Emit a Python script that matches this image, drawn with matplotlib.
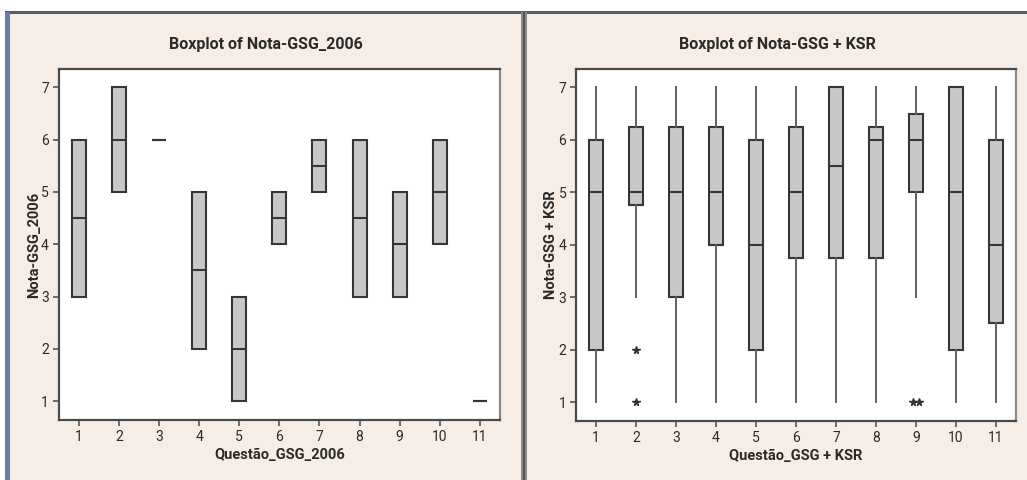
import matplotlib
matplotlib.use("Agg")
import matplotlib.pyplot as plt
from matplotlib.patches import Rectangle
from matplotlib import font_manager

# ---- data -------------------------------------------------------------
questions = [1, 2, 3, 4, 5, 6, 7, 8, 9, 10, 11]
tick_labels = [str(q) for q in questions]

# Nota-GSG_2006: quartiles only (no whiskers)
gsg_q1 = [3, 5, 6, 2, 1, 4, 5, 3, 3, 4, 1]
gsg_med = [4.5, 6, 6, 3.5, 2, 4.5, 5.5, 4.5, 4, 5, 1]
gsg_q3 = [6, 7, 6, 5, 3, 5, 6, 6, 5, 6, 1]

# Nota-GSG + KSR
ksr_lo = [1, 3, 1, 1, 1, 1, 1, 1, 3, 1, 1]
ksr_q1 = [2, 4.75, 3, 4, 2, 3.75, 3.75, 3.75, 5, 2, 2.5]
ksr_med = [5, 5, 5, 5, 4, 5, 5.5, 6, 6, 5, 4]
ksr_q3 = [6, 6.25, 6.25, 6.25, 6, 6.25, 7, 6.25, 6.5, 7, 6]
ksr_hi = [7, 7, 7, 7, 7, 7, 7, 7, 7, 7, 7]
ksr_outliers = [[], [2, 1], [], [], [], [], [], [], [1, 1], [], []]

# ---- styling ----------------------------------------------------------
BG = "#f6eee6"
BOX_FILL = "#c8c8c8"
EDGE = "#363636"
WHISK = "#5e5e5e"
TXT = "#2a2a2a"

installed = {f.name for f in font_manager.fontManager.ttflist}
FONT = [f for f in ["Liberation Sans Narrow", "DejaVu Sans Condensed", "Roboto",
                    "DejaVu Sans"] if f in installed]
NARROW = FONT[0] in ("Liberation Sans Narrow", "DejaVu Sans Condensed")
TITLE_SIZE = 13.5 if NARROW else 11.5
LABEL_SIZE = 12 if NARROW else 10.5
TICK_SIZE = 11 if NARROW else 10

W, H = 1027, 480
fig = plt.figure(figsize=(W / 100, H / 100), dpi=100)
fig.patch.set_facecolor("white")


def px_rect(x0, y0, x1, y1, color):
    fig.patches.append(Rectangle((x0 / W, 1 - y1 / H), (x1 - x0) / W, (y1 - y0) / H,
                                 transform=fig.transFigure, facecolor=color,
                                 edgecolor="none", zorder=-10))


# window background, frame edges and divider
px_rect(5, 12, W, H, BG)
px_rect(5, 11, W, 13.5, "#5c5c5c")
px_rect(5, 12, 10, H, "#6a7fa3")
px_rect(521, 12, 527, H, "#8a8886")
px_rect(522.5, 12, 524.5, H, "#555555")


def px_axes(x0, y0, x1, y1):
    return fig.add_axes([x0 / W, 1 - y1 / H, (x1 - x0) / W, (y1 - y0) / H])


def style_axes(ax, title, xlabel, ylabel, title_x):
    ax.set_facecolor("white")
    ax.set_xlim(0.5, 11.5)
    ax.set_ylim(0.64, 7.35)
    ax.set_xticks(questions)
    ax.set_xticklabels(tick_labels)
    ax.set_yticks([1, 2, 3, 4, 5, 6, 7])
    for s in ax.spines.values():
        s.set_color("#4a4a4a")
        s.set_linewidth(1.6)
    ax.spines["right"].set_color("#8a8a8a")
    ax.tick_params(direction="out", length=4, width=1.2, color="#555555",
                   labelsize=TICK_SIZE, labelcolor=TXT, pad=3)
    for lab in ax.get_xticklabels() + ax.get_yticklabels():
        lab.set_family(FONT)
    ax.set_xlabel(xlabel, fontsize=LABEL_SIZE, fontweight="bold", color=TXT,
                  family=FONT, labelpad=3)
    ax.set_ylabel(ylabel, fontsize=LABEL_SIZE, fontweight="bold", color=TXT,
                  family=FONT, labelpad=0)
    fig.text(title_x / W, 1 - 45 / H, title, ha="center", va="center",
             fontsize=TITLE_SIZE, fontweight="bold", color=TXT, family=FONT)


def draw_boxes(ax, stats, whiskers=True):
    ax.bxp(stats, positions=questions, widths=0.35, patch_artist=True,
           showcaps=False, showfliers=False,
           boxprops=dict(facecolor=BOX_FILL, edgecolor=EDGE, linewidth=1.5),
           medianprops=dict(color=EDGE, linewidth=1.5),
           whiskerprops=dict(color=WHISK, linewidth=1.4 if whiskers else 0))


# ---- left panel ---------------------------------------------------------
ax1 = px_axes(58.7, 69, 500, 420)
stats1 = [dict(med=m, q1=a, q3=b, whislo=a, whishi=b, fliers=[])
          for a, m, b in zip(gsg_q1, gsg_med, gsg_q3)]
draw_boxes(ax1, stats1, whiskers=False)
style_axes(ax1, "Boxplot of Nota-GSG_2006", "Questão_GSG_2006", "Nota-GSG_2006", 266)

# ---- right panel --------------------------------------------------------
ax2 = px_axes(576, 69, 1016, 421)
stats2 = [dict(med=m, q1=a, q3=b, whislo=lo, whishi=hi, fliers=[])
          for lo, a, m, b, hi in zip(ksr_lo, ksr_q1, ksr_med, ksr_q3, ksr_hi)]
draw_boxes(ax2, stats2, whiskers=True)

# outliers as asterisks; tied values are set side by side
for q, outs in zip(questions, ksr_outliers):
    for v in sorted(set(outs)):
        n = outs.count(v)
        for k in range(n):
            dx = (k - (n - 1) / 2) * 0.13
            ax2.plot(q + dx, v, marker="*", markersize=5.5, color="#333333",
                     linestyle="none", zorder=3)

style_axes(ax2, "Boxplot of Nota-GSG + KSR", "Questão_GSG + KSR", "Nota-GSG + KSR", 777)

fig.savefig("out.png", dpi=100, facecolor=fig.get_facecolor())
